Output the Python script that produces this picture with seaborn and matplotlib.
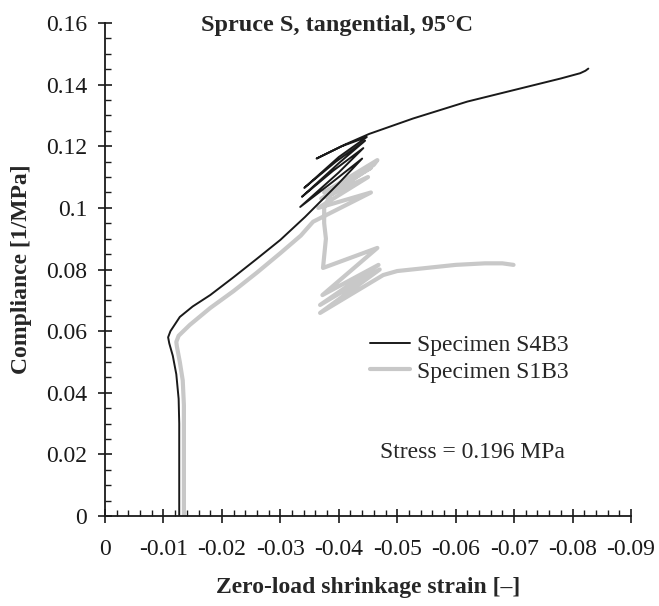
#!/usr/bin/env python3
# -*- coding: utf-8 -*-
"""
Compliance vs zero-load shrinkage strain, Spruce S tangential at 95 C
"""

import numpy as np
import pandas as pd
import seaborn as sns
import matplotlib.pyplot as plt
from matplotlib.ticker import MultipleLocator
from matplotlib.lines import Line2D

# Specimen S4B3 (black)
s4b3_strain = [-0.0127, -0.0127, -0.0126, -0.0122, -0.0116, -0.0110, -0.0108, -0.0112,
               -0.0128, -0.0150, -0.0180, -0.0220, -0.0260, -0.0300, -0.0342,
               -0.0400, -0.0440, -0.0390, -0.0334, -0.0400, -0.0442, -0.0390, -0.0337,
               -0.0400, -0.0445, -0.0395, -0.0341, -0.0400, -0.0448, -0.0405, -0.0362,
               -0.0410, -0.0452, -0.0527, -0.0620, -0.0716, -0.0780, -0.0813, -0.0822, -0.0827]
s4b3_compliance = [0.000, 0.030, 0.038, 0.046, 0.052, 0.056, 0.058, 0.060,
                   0.0646, 0.0680, 0.0717, 0.0775, 0.0835, 0.0896, 0.0970,
                   0.1080, 0.1160, 0.1085, 0.1003, 0.1115, 0.1194, 0.1120, 0.1036,
                   0.1145, 0.1218, 0.1150, 0.1065, 0.1165, 0.1230, 0.1200, 0.1160,
                   0.1205, 0.1240, 0.1290, 0.1345, 0.1390, 0.1420, 0.1437, 0.1445, 0.1452]

# Specimen S1B3 (grey)
s1b3_strain = [-0.0135, -0.0135, -0.0133, -0.0128, -0.0123, -0.0122, -0.0126, -0.0145,
               -0.0180, -0.0220, -0.0260, -0.0300, -0.0335, -0.0356,
               -0.0455, -0.0365, -0.0450, -0.0370, -0.0455, -0.0375, -0.0466, -0.0460,
               -0.0385, -0.0375, -0.0375, -0.0378, -0.0373,
               -0.0466, -0.0372, -0.0468, -0.0368, -0.0470, -0.0368, -0.0476,
               -0.0500, -0.0550, -0.0600, -0.0650, -0.0680, -0.0699]
s1b3_compliance = [0.000, 0.036, 0.044, 0.050, 0.055, 0.0565, 0.0585, 0.062,
                   0.0675, 0.073, 0.079, 0.0853, 0.091, 0.0955,
                   0.1050, 0.1000, 0.1100, 0.1030, 0.1130, 0.1050, 0.1155, 0.1140,
                   0.1040, 0.1000, 0.0950, 0.0900, 0.0805,
                   0.0870, 0.0717, 0.0815, 0.0685, 0.0800, 0.0659, 0.0782,
                   0.0795, 0.0805, 0.0815, 0.0820, 0.0820, 0.0815]

x_tick_labels = ['0', '-0.01', '-0.02', '-0.03', '-0.04', '-0.05', '-0.06', '-0.07', '-0.08', '-0.09']
y_tick_labels = ['0', '0.02', '0.04', '0.06', '0.08', '0.1', '0.12', '0.14', '0.16']

sns.set_style('ticks')
plt.rcParams['font.family'] = ['Liberation Serif', 'DejaVu Serif']
plt.rcParams['axes.unicode_minus'] = False

fig = plt.figure(figsize=(6.59, 6.06), dpi=100)
ax = fig.add_axes([105 / 659, 90 / 606, 526 / 659, 493 / 606])

df_black = pd.DataFrame({'strain': s4b3_strain, 'compliance': s4b3_compliance})
df_grey = pd.DataFrame({'strain': s1b3_strain, 'compliance': s1b3_compliance})

sns.lineplot(data=df_grey, x='strain', y='compliance', sort=False, estimator=None,
             color='#c8c8c8', lw=3.0, ax=ax)
sns.lineplot(data=df_black, x='strain', y='compliance', sort=False, estimator=None,
             color='#1a1a1a', lw=1.4, ax=ax)

ax.set_xlim(0, -0.09)
ax.set_ylim(0, 0.16)
ax.set_xticks(np.linspace(0, -0.09, 10))
ax.set_xticklabels(x_tick_labels)
ax.set_yticks(np.linspace(0, 0.16, 9))
ax.set_yticklabels(y_tick_labels)
ax.xaxis.set_minor_locator(MultipleLocator(0.002))
ax.yaxis.set_minor_locator(MultipleLocator(0.005))

for side in ['top', 'right']:
    ax.spines[side].set_visible(False)
for side in ['left', 'bottom']:
    ax.spines[side].set_linewidth(1.3)
    ax.spines[side].set_color('#1a1a1a')

ax.tick_params(which='major', direction='inout', length=9.5, width=1.2, colors='#1a1a1a',
               labelsize=17, pad=8)
ax.tick_params(axis='x', which='major', pad=12)
ax.tick_params(which='minor', direction='in', length=4.5, width=1.0, colors='#1a1a1a')

ax.set_xlabel('Zero-load shrinkage strain [–]', fontsize=17, fontweight='bold', labelpad=12)
ax.set_ylabel('Compliance [1/MPa]', fontsize=17, fontweight='bold', labelpad=10)

handles = [Line2D([], [], color='#1a1a1a', lw=1.4), Line2D([], [], color='#c8c8c8', lw=3.0)]
ax.legend(handles, ['Specimen S4B3', 'Specimen S1B3'], loc='center left',
          bbox_to_anchor=(0.504, 0.319), frameon=False, fontsize=17, handlelength=1.7,
          handletextpad=0.3, labelspacing=0.2, borderpad=0, borderaxespad=0)

fig.text(380 / 659, 1 - 452 / 606, 'Stress = 0.196 MPa', fontsize=17, ha='left', va='center')
fig.text(201 / 659, 1 - 25 / 606, 'Spruce S, tangential, 95°C', fontsize=17.5,
         fontweight='bold', ha='left', va='center')

fig.savefig('out.png', dpi=100)
